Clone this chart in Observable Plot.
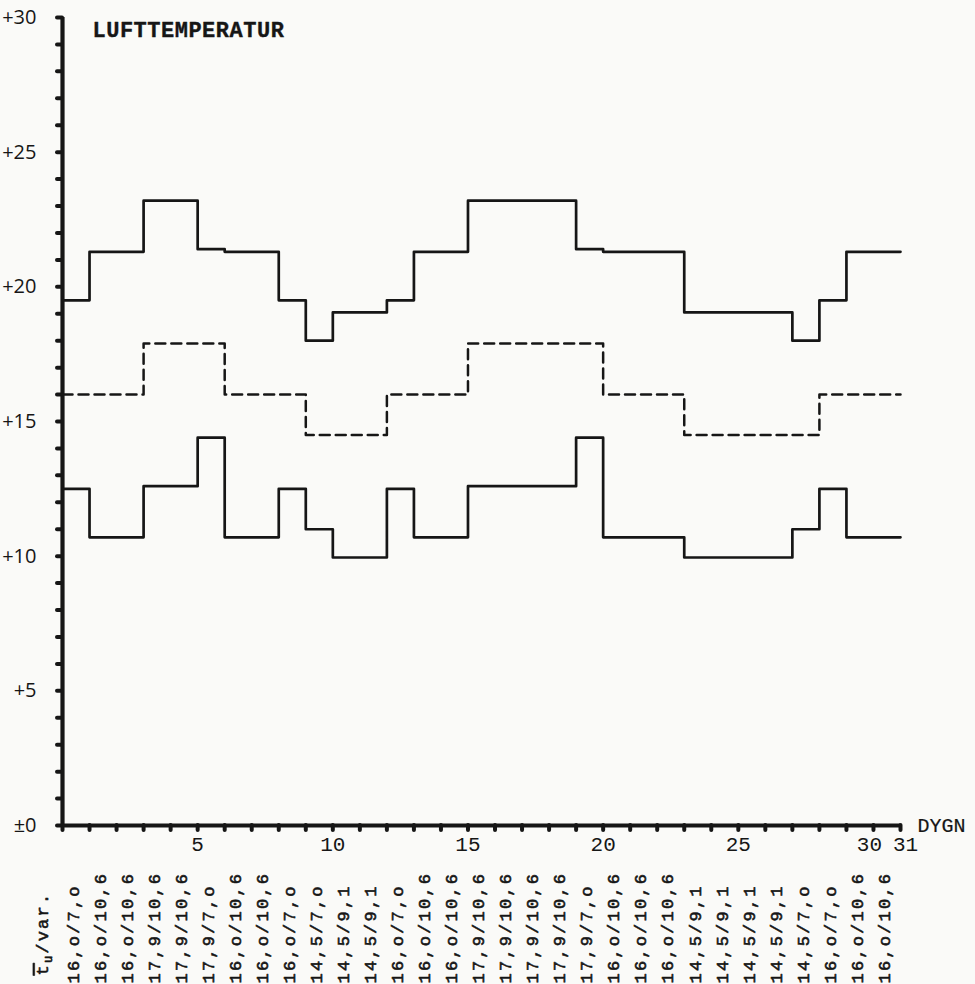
<!DOCTYPE html>
<html>
<head>
<meta charset="utf-8">
<script src="https://cdn.jsdelivr.net/npm/d3@7"></script>
<script src="https://cdn.jsdelivr.net/npm/@observablehq/plot@0.6"></script>
<style>
  html, body { margin: 0; padding: 0; background: #fafaf8; }
  #chart svg { display: block; }
  /* typewriter spacing for the monospaced texts */
  #chart g[font-size="17"] { letter-spacing: 2.2px; }
  #chart g[font-size="22"] { letter-spacing: 0.5px; }
</style>
</head>
<body>
<div id="chart"></div>
<script>
// Air temperature per day (DYGN 1–31): daily mean and diurnal variation, °C
const days = d3.range(1, 32);
const meanTemp = [
  16.0, 16.0, 16.0, 17.9, 17.9, 17.9, 16.0, 16.0, 16.0, 14.5,
  14.5, 14.5, 16.0, 16.0, 16.0, 17.9, 17.9, 17.9, 17.9, 17.9,
  16.0, 16.0, 16.0, 14.5, 14.5, 14.5, 14.5, 14.5, 16.0, 16.0, 16.0
];
const variation = [
  7.0, 10.6, 10.6, 10.6, 10.6, 7.0, 10.6, 10.6, 7.0, 7.0,
  9.1, 9.1, 7.0, 10.6, 10.6, 10.6, 10.6, 10.6, 10.6, 7.0,
  10.6, 10.6, 10.6, 9.1, 9.1, 9.1, 9.1, 7.0, 7.0, 10.6, 10.6
];
const yLabelTicks = [0, 5, 10, 15, 20, 25, 30];
const yMinorTicks = d3.range(0, 31);
const xLabelTicks = [5, 10, 15, 20, 25, 30, 31];
const xMinorTicks = d3.range(0, 32);
const title = "LUFTTEMPERATUR";
const xTitle = "DYGN";
const columnHead = "t/var.";

const ink = "#161616";

// decimal comma, with the typed "o" for a zero decimal
const fmt = v => {
  const [a, b] = v.toFixed(1).split(".");
  return a + "," + (b === "0" ? "o" : b);
};
const dayLabels = days.map((d, i) => `${fmt(meanTemp[i])}/${fmt(variation[i])}`);

// each day's value is held across the interval [day-1, day]
const steps = f => [
  ...days.map((d, i) => ({day: d - 1, t: f(i)})),
  {day: days.length, t: f(days.length - 1)}
];
const upper = steps(i => meanTemp[i] + variation[i] / 2);
const mean = steps(i => meanTemp[i]);
const lower = steps(i => meanTemp[i] - variation[i] / 2);

const typed = {fontFamily: "Liberation Mono", fill: ink, stroke: ink, strokeWidth: 0.35};
const xTickText = {fontFamily: "Liberation Mono", fontSize: 21, tickSize: 0, tickPadding: 11, label: null,
  tickFormat: d => String(d)};

const plot = Plot.plot({
  width: 975,
  height: 984,
  marginLeft: 62,
  marginRight: 75,
  marginTop: 17,
  marginBottom: 159,
  style: {background: "#fafaf8", color: ink, overflow: "visible"},
  x: {domain: [0, 31]},
  y: {domain: [0, 30]},
  marks: [
    // minor tick blobs
    Plot.axisY({ticks: yMinorTicks, tickSize: 5, fill: "none", strokeWidth: 4, strokeLinecap: "round", label: null}),
    Plot.axisX({ticks: xMinorTicks, tickSize: 5, fill: "none", strokeWidth: 4, strokeLinecap: "round", label: null}),
    // tick labels; the last two are typed slightly apart
    Plot.axisY({ticks: yLabelTicks, tickSize: 0, tickPadding: 26, label: null,
      tickFormat: d => d === 0 ? "±0" : "+" + d, fontFamily: "Open Sans", fontSize: 20}),
    Plot.axisX({ticks: xLabelTicks.slice(0, 5), ...xTickText}),
    Plot.axisX({ticks: xLabelTicks.slice(5, 6), ...xTickText, dx: -4}),
    Plot.axisX({ticks: xLabelTicks.slice(6), ...xTickText, dx: 5}),
    // axis lines
    Plot.ruleX([0], {y1: 0, y2: 30, strokeWidth: 4.2, stroke: ink}),
    Plot.ruleY([0], {x1: 0, x2: 31, strokeWidth: 4.2, stroke: ink}),
    // daily maximum, mean and minimum
    Plot.line(upper, {x: "day", y: "t", curve: "step-after", stroke: ink, strokeWidth: 2.7}),
    Plot.line(mean, {x: "day", y: "t", curve: "step-after", stroke: ink, strokeWidth: 2.5, strokeDasharray: "10,6"}),
    Plot.line(lower, {x: "day", y: "t", curve: "step-after", stroke: ink, strokeWidth: 2.7}),
    // titles
    Plot.text([title], {text: d => d, frameAnchor: "top-left", textAnchor: "start", dx: 30, dy: 4,
      fontWeight: "bold", fontSize: 22, ...typed}),
    Plot.text([xTitle], {text: d => d, frameAnchor: "bottom-right", textAnchor: "start", dx: 17, dy: 6,
      fontSize: 20, ...typed, strokeWidth: 0.2}),
    // typed mean/variation column under each day
    Plot.text(days, {x: d => d - 0.6, text: (d, i) => dayLabels[i], frameAnchor: "bottom",
      rotate: -90, textAnchor: "start", lineAnchor: "middle", dy: 158, fontSize: 17, ...typed, strokeWidth: 0.6}),
    Plot.text([columnHead], {x: () => -0.74, text: d => d, frameAnchor: "bottom",
      rotate: -90, textAnchor: "start", lineAnchor: "middle", dy: 150, fontSize: 17, ...typed, strokeWidth: 0.6})
  ]
});

// column head: t with overbar and subscript u
d3.select(plot).selectAll("text").filter(function () { return this.textContent === columnHead; })
  .each(function () {
    const t = d3.select(this).text(null);
    t.append("tspan").style("text-decoration", "overline").text("t");
    t.append("tspan").attr("dy", 4).attr("font-size", 12).text("u");
    t.append("tspan").attr("dy", -4).text("/var.");
  });

document.getElementById("chart").append(plot);
</script>
</body>
</html>
